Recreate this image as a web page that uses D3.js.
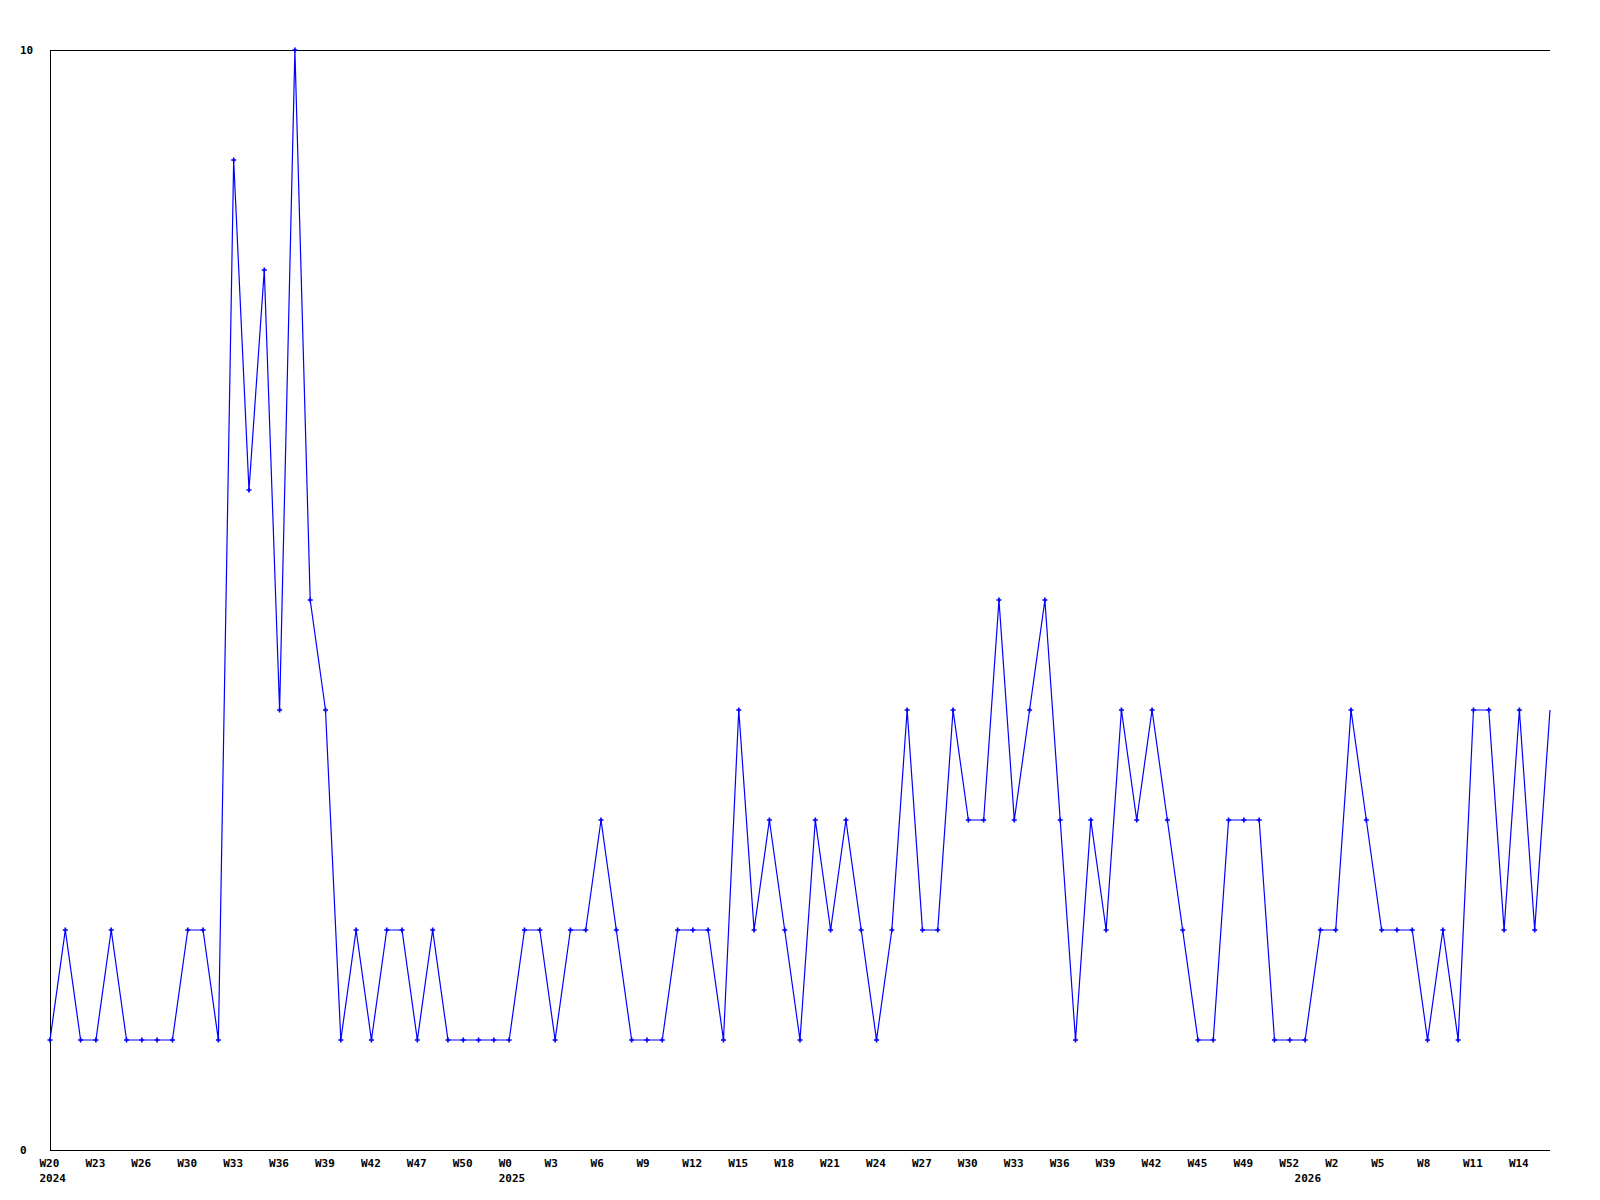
<!DOCTYPE html>
<html>
<head>
<meta charset="utf-8">
<script src="https://cdn.jsdelivr.net/npm/d3@7"></script>
<style>
  body { margin: 0; background: #fff; }
  text { font-family: "DejaVu Sans Mono", monospace; font-size: 11px; font-weight: bold; fill: #000; }
</style>
</head>
<body>
<div id="graph"></div>
<script>
var width = 1600, height = 1200;

// weekly counts, one per week
var values = [1,2,1,1,2,1,1,1,1,2,2,1,
  9,6,8,4,10,5,4,
  1,2,1,2,2,1,2,1,
  1,1,1,1,
  2,2,1,2,2,
  3,2,1,1,1,2,2,2,1,
  4,2,3,2,1,3,
  2,3,2,1,2,4,2,2,
  4,3,3,5,3,4,5,3,
  1,3,2,4,3,4,3,2,
  1,1,3,3,3,1,1,1,
  2,2,4,3,2,2,2,1,
  2,1,4,4,2,4,2,4];

// a label on every third week
var weekLabels = ["W20","W23","W26","W30","W33","W36","W39","W42","W47","W50",
  "W0","W3","W6","W9","W12","W15","W18","W21","W24","W27","W30","W33","W36",
  "W39","W42","W45","W49","W52","W2","W5","W8","W11","W14"];
var yearLabels = ["2024","2025","2026"];
var yearIndex = [0, 30, 82];
var yTicks = [0, 10];

var margin = {left: 50, right: 50, top: 50, bottom: 50};

var svg = d3.select('#graph').append('svg')
    .attr('width', width)
    .attr('height', height);

var x = d3.scaleLinear()
    .domain([0, values.length - 1])
    .range([margin.left, width - margin.right]);
var y = d3.scaleLinear()
    .domain([0, 10])
    .range([height - margin.bottom, margin.top]);

// frame: left, top, bottom
svg.append("path")
    .attr("d", "M" + (width - margin.right) + "," + y(10) + "H" + x(0) + "V" + y(0) + "H" + (width - margin.right))
    .attr("fill", "none")
    .attr("stroke", "#000")
    .attr("stroke-width", 1)
    .attr("shape-rendering", "crispEdges");

svg.selectAll(".ylab")
    .data(yTicks)
  .enter().append("text")
    .attr("class", "ylab")
    .attr("x", 20)
    .attr("y", function(d) { return y(d) + 4; })
    .text(function(d) { return d; });

svg.selectAll(".xlab")
    .data(weekLabels)
  .enter().append("text")
    .attr("class", "xlab")
    .attr("x", function(d, i) { return x(i * 3) - 10.5; })
    .attr("y", 1167)
    .text(function(d) { return d; });

svg.selectAll(".year")
    .data(yearLabels)
  .enter().append("text")
    .attr("class", "year")
    .attr("x", function(d, i) { return x(yearIndex[i]) - 10.5; })
    .attr("y", 1182)
    .text(function(d) { return d; });

var line = d3.line()
    .x(function(d, i) { return x(i); })
    .y(function(d) { return y(d); });

svg.append("path")
    .datum(values)
    .attr("d", line)
    .attr("fill", "none")
    .attr("stroke", "#0000ff")
    .attr("stroke-width", 1.2);

var sym = d3.symbol().type(d3.symbolCross).size(14);
svg.selectAll(".pt")
    .data(values.slice(0, values.length - 1))
  .enter().append("path")
    .attr("class", "pt")
    .attr("d", sym)
    .attr("fill", "#0000ff")
    .attr("transform", function(d, i) { return "translate(" + x(i) + "," + y(d) + ")"; });
</script>
</body>
</html>
